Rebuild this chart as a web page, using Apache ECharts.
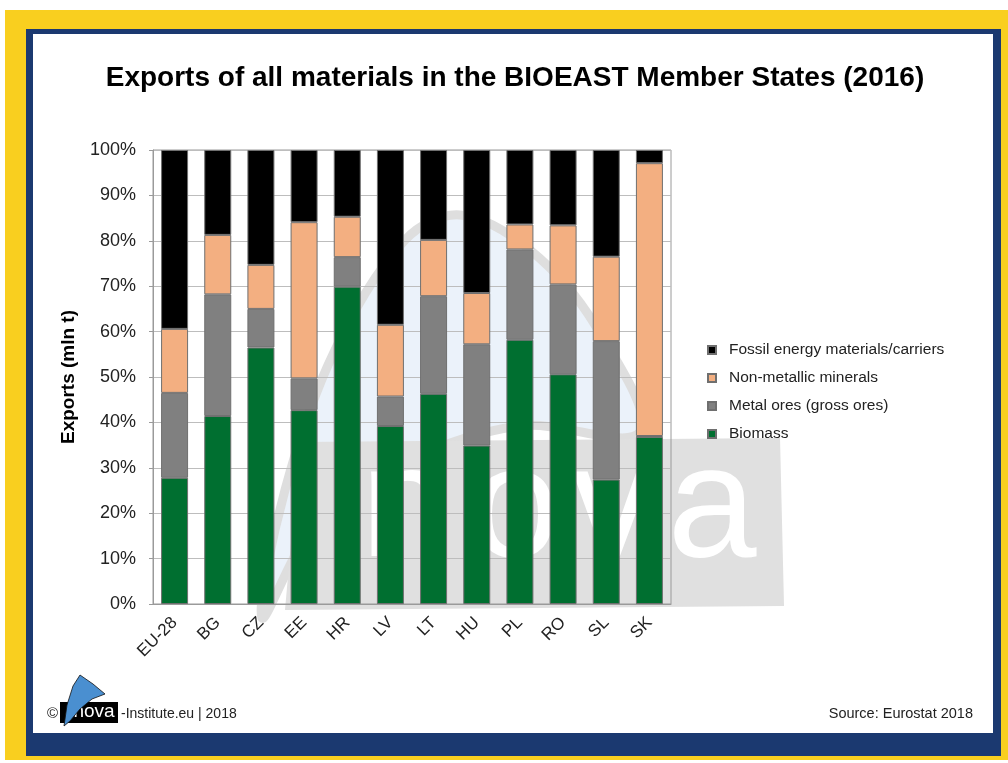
<!DOCTYPE html>
<html lang="en">
<head>
    <meta charset="UTF-8">
    <title>Exports of all materials in the BIOEAST Member States (2016)</title>
    <script src="https://cdn.jsdelivr.net/npm/echarts@6/dist/echarts.min.js"></script>
    <style>
        html, body { margin: 0; padding: 0; background: #fff; }
        #chart { width: 1008px; height: 763px; }
    </style>
</head>
<body>
    <div id="chart"></div>

    <script>
        // values (share of exports, %)
        const countries = ['EU-28', 'BG', 'CZ', 'EE', 'HR', 'LV', 'LT', 'HU', 'PL', 'RO', 'SL', 'SK'];
        const biomass     = [27.8, 41.4, 56.5, 42.7, 69.9, 39.2, 46.3, 34.9, 58.2, 50.6, 27.4, 36.8];
        const metalOres   = [18.7, 26.8,  8.5,  7.0,  6.5,  6.5, 21.5, 22.3, 19.9, 19.8, 30.5,  0.2];
        const nonMetallic = [14.1, 13.1,  9.7, 34.4,  8.9, 15.8, 12.4, 11.3,  5.5, 13.0, 18.6, 60.1];
        const fossil      = [39.4, 18.7, 25.3, 15.9, 14.7, 38.5, 19.8, 31.5, 16.4, 16.6, 23.5,  2.9];

        const seriesNames = ['Biomass', 'Metal ores (gross ores)', 'Non-metallic minerals', 'Fossil energy materials/carriers'];
        const seriesColors = ['#006f30', '#808080', '#f3af81', '#000000'];
        const seriesData = [biomass, metalOres, nonMetallic, fossil];

        const font = '"Liberation Sans", Arial, Helvetica, sans-serif';

        const chart = echarts.init(document.getElementById('chart'));

        // watermark letters, placed one by one
        const wmLetters = [['n', 405], ['o', 515], ['v', 612], ['a', 712]];

        // frame + watermark + footer
        const graphics = [
            {type: 'rect', z: -20, shape: {x: 5, y: 10, width: 1003, height: 750}, style: {fill: '#f9cf1f'}},
            {type: 'rect', z: -19, shape: {x: 26, y: 29, width: 975, height: 727}, style: {fill: '#1b3970'}},
            {type: 'rect', z: -18, shape: {x: 33, y: 34, width: 960, height: 699}, style: {fill: '#ffffff'}},

            // faint nova watermark behind the plot
            {type: 'polygon', z: -15, shape: {
                points: [[262, 618], [285, 490], [335, 350], [405, 240], [460, 215], [530, 250],
                         [595, 325], [640, 432], [520, 426], [405, 462], [315, 525]],
                smooth: 0.35
            }, style: {fill: '#ebf2fa', stroke: '#dedede', lineWidth: 9}},
            {type: 'polygon', z: -14, shape: {points: [[300, 442], [780, 438], [784, 606], [285, 610]]},
                style: {fill: '#e0e0e0'}}
        ].concat(wmLetters.map(l => ({
            type: 'text', z: -13, x: l[1], y: 512, style: {
                text: l[0], fill: '#ffffff', font: '160px ' + font,
                align: 'center', verticalAlign: 'middle'
            }
        }))).concat([
            {type: 'text', z: 10, x: 515, y: 78, style: {
                text: 'Exports of all materials in the BIOEAST Member States (2016)',
                fill: '#000', font: 'bold 28px ' + font, align: 'center', verticalAlign: 'middle'
            }},

            // footer left
            {type: 'text', z: 10, x: 47, y: 714, style: {
                text: '\u00a9', fill: '#222', font: '15px ' + font, verticalAlign: 'middle'
            }},
            {type: 'rect', z: 10, shape: {x: 60, y: 702, width: 58, height: 21}, style: {fill: '#000'}},
            {type: 'text', z: 11, x: 94, y: 712, style: {
                text: 'nova', fill: '#fff', font: '19px ' + font, align: 'center', verticalAlign: 'middle'
            }},
            {type: 'polygon', z: 12, shape: {points: [[64, 726], [67, 705], [73, 686], [80, 675], [93, 684], [105, 694],
                [92, 699], [80, 709], [70, 721]]}, style: {fill: '#4a8fd0', stroke: '#111', lineWidth: 0.8}},
            {type: 'text', z: 10, x: 121, y: 714, style: {
                text: '-Institute.eu | 2018', fill: '#222', font: '14px ' + font, verticalAlign: 'middle'
            }},
            // footer right
            {type: 'text', z: 10, x: 973, y: 714, style: {
                text: 'Source: Eurostat 2018', fill: '#222', font: '14.5px ' + font,
                align: 'right', verticalAlign: 'middle'
            }}
        ]);

        const option = {
            animation: false,
            textStyle: {fontFamily: font},
            graphic: graphics,
            grid: {
                left: 153, top: 150, width: 518, height: 454,
                show: true, borderColor: '#9a9a9a', borderWidth: 1
            },
            legend: {
                orient: 'vertical',
                left: 702, top: 337,
                itemWidth: 8, itemHeight: 8, itemGap: 12,
                icon: 'rect',
                data: seriesNames.slice().reverse(),
                textStyle: {fontFamily: font, fontSize: 15.5, color: '#222', padding: [0, 0, 0, 8]}
            },
            xAxis: {
                type: 'category',
                data: countries,
                axisLine: {show: true, lineStyle: {color: '#9a9a9a'}},
                axisTick: {show: false},
                axisLabel: {rotate: 45, fontFamily: font, fontSize: 17, color: '#222', margin: 16}
            },
            yAxis: {
                type: 'value',
                min: 0, max: 100, interval: 10,
                name: 'Exports (mln t)',
                nameLocation: 'middle',
                nameGap: 75,
                nameTextStyle: {fontFamily: font, fontSize: 19, fontWeight: 'bold', color: '#000'},
                axisLine: {show: true, lineStyle: {color: '#9a9a9a'}},
                axisTick: {show: true, length: 4, lineStyle: {color: '#9a9a9a'}},
                axisLabel: {formatter: '{value}%', fontFamily: font, fontSize: 18, color: '#222', margin: 17},
                splitLine: {lineStyle: {color: '#bdbdbd'}}
            },
            series: seriesNames.map((name, i) => ({
                name: name,
                type: 'bar',
                stack: 'total',
                barWidth: 27,
                data: seriesData[i],
                itemStyle: {color: seriesColors[i], borderColor: '#6f6f6f', borderWidth: 1}
            }))
        };
        chart.setOption(option);
    </script>
</body>
</html>
